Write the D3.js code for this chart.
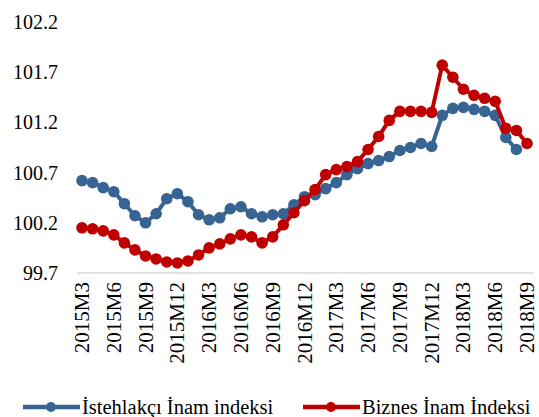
<!DOCTYPE html>
<html lang="az">
<head>
    <meta charset="UTF-8">
    <title>İnam indeksləri</title>
    <script src="https://d3js.org/d3.v7.min.js"></script>
    <style>
        body { margin: 0; background: #fff; }
    </style>
</head>
<body>
<script>
// months on the category axis
const months = [
    "2015M3","2015M4","2015M5","2015M6","2015M7","2015M8","2015M9","2015M10","2015M11","2015M12",
    "2016M1","2016M2","2016M3","2016M4","2016M5","2016M6","2016M7","2016M8","2016M9","2016M10","2016M11","2016M12",
    "2017M1","2017M2","2017M3","2017M4","2017M5","2017M6","2017M7","2017M8","2017M9","2017M10","2017M11","2017M12",
    "2018M1","2018M2","2018M3","2018M4","2018M5","2018M6","2018M7","2018M8","2018M9"
];

// İstehlakçı İnam indeksi (no value for the last month)
const consumer = [
    100.62, 100.60, 100.55, 100.51, 100.39, 100.27, 100.20, 100.29, 100.44, 100.49,
    100.41, 100.28, 100.23, 100.25, 100.34, 100.36, 100.29, 100.26, 100.28, 100.29, 100.38, 100.46,
    100.48, 100.54, 100.60, 100.68, 100.74, 100.79, 100.82, 100.86, 100.92, 100.95, 100.99, 100.96,
    101.27, 101.34, 101.35, 101.33, 101.31, 101.27, 101.05, 100.93, null
];

// Biznes İnam İndeksi
const business = [
    100.15, 100.14, 100.12, 100.08, 100.00, 99.93, 99.87, 99.84, 99.81, 99.80,
    99.82, 99.88, 99.95, 99.99, 100.04, 100.08, 100.06, 100.00, 100.06, 100.18, 100.30, 100.42,
    100.53, 100.68, 100.73, 100.76, 100.81, 100.93, 101.06, 101.22, 101.31, 101.31, 101.31, 101.30,
    101.77, 101.65, 101.53, 101.47, 101.44, 101.41, 101.14, 101.12, 100.99
];

const yTicks = [99.7, 100.2, 100.7, 101.2, 101.7, 102.2];

const series = [
    {name: "İstehlakçı İnam indeksi", values: consumer, color: "#386494"},
    {name: "Biznes İnam İndeksi", values: business, color: "#c00000"}
];

const width = 539, height = 417;
const font = "\"Liberation Serif\", \"Times New Roman\", serif";

const svg = d3.select("body").append("svg")
    .attr("width", width)
    .attr("height", height);

const x = d3.scalePoint().domain(months).range([82, 527]);
const y = d3.scaleLinear().domain([99.7, 102.2]).range([273, 22]);

// y axis labels
svg.append("g")
    .selectAll("text")
    .data(yTicks)
    .enter().append("text")
    .attr("x", 58)
    .attr("y", d => y(d))
    .attr("dy", "0.35em")
    .attr("text-anchor", "end")
    .style("font-family", font)
    .style("font-size", "20px")
    .text(d => d.toFixed(1));

// category axis line
svg.append("line")
    .attr("x1", 77).attr("x2", 533)
    .attr("y1", y(99.7)).attr("y2", y(99.7))
    .attr("stroke", "#d9d9d9")
    .attr("stroke-width", 1.5);

// x labels, every third month, rotated
svg.append("g")
    .selectAll("text")
    .data(months.filter((m, i) => i % 3 === 0))
    .enter().append("text")
    .attr("transform", d => `translate(${x(d)},282) rotate(-90)`)
    .attr("text-anchor", "end")
    .attr("dominant-baseline", "central")
    .style("font-family", font)
    .style("font-size", "21px")
    .text(d => d);

const line = d3.line()
    .defined(d => d.v !== null)
    .x(d => x(d.m))
    .y(d => y(d.v));

series.forEach(s => {
    const pts = months.map((m, i) => ({m: m, v: s.values[i]}));
    svg.append("path")
        .datum(pts)
        .attr("fill", "none")
        .attr("stroke", s.color)
        .attr("stroke-width", 4)
        .attr("stroke-linejoin", "round")
        .attr("d", line);
    svg.append("g")
        .selectAll("circle")
        .data(pts.filter(d => d.v !== null))
        .enter().append("circle")
        .attr("cx", d => x(d.m))
        .attr("cy", d => y(d.v))
        .attr("r", 5.8)
        .attr("fill", s.color);
});

// legend
const legendX = [23, 303];
const legend = svg.append("g")
    .selectAll("g")
    .data(series)
    .enter().append("g")
    .attr("transform", (d, i) => `translate(${legendX[i]},407)`);

legend.append("line")
    .attr("x1", 0).attr("x2", 57)
    .attr("stroke", d => d.color)
    .attr("stroke-width", 4.5);

legend.append("circle")
    .attr("cx", 28)
    .attr("r", 5)
    .attr("fill", d => d.color);

legend.append("text")
    .attr("x", 59)
    .attr("y", 7)
    .style("font-family", font)
    .style("font-size", "20.5px")
    .text(d => d.name);
</script>
</body>
</html>
